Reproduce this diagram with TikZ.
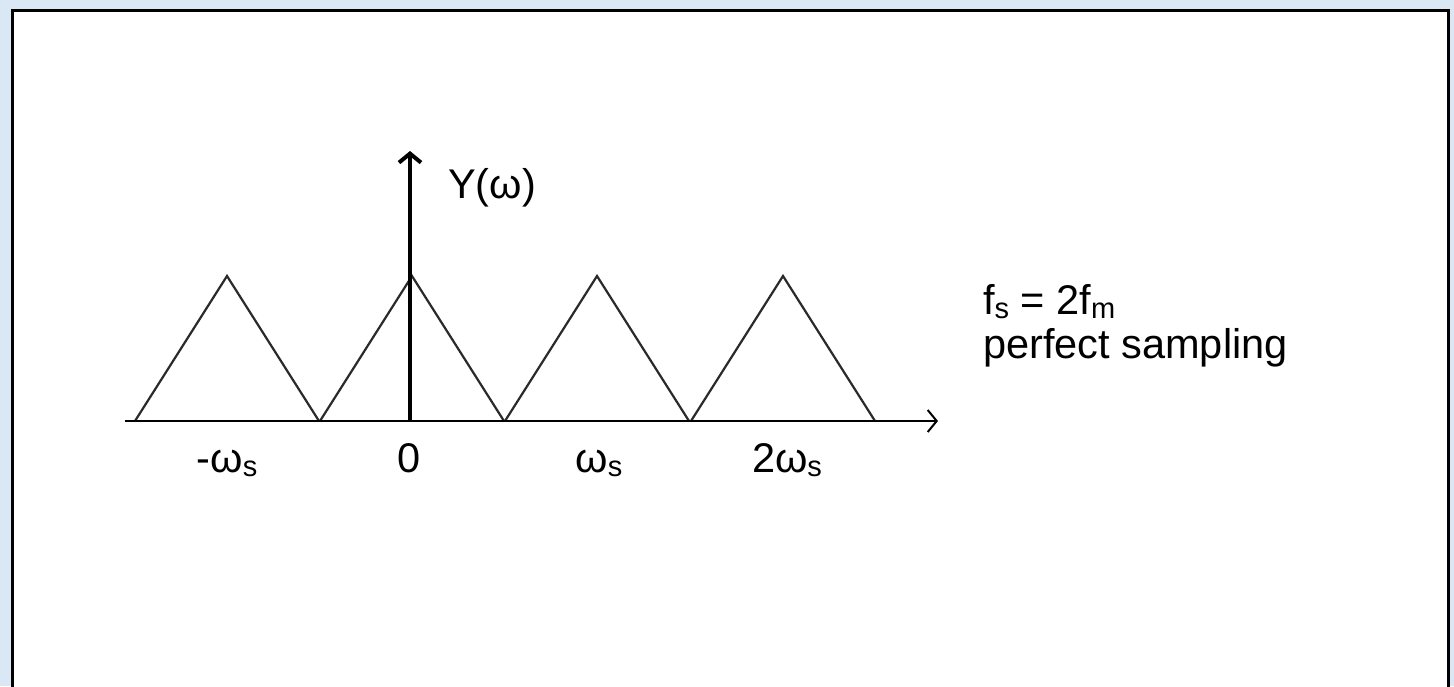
\documentclass[tikz,border=0pt]{standalone}
\usepackage{fontspec}
\setmainfont{Liberation Sans}
\usetikzlibrary{arrows.meta,positioning}
\definecolor{bgPaper}{HTML}{DAE7F4}
\definecolor{lineGrey}{HTML}{2A2A2A}
\newcommand{\lowidx}[1]{\raisebox{-0.12em}{\fontsize{29}{30}\selectfont #1}}

\begin{document}
\begin{tikzpicture}[
    x=1pt, y=-1pt,
    lbl/.style={font=\fontsize{41.5}{48}\selectfont, inner sep=0pt, anchor=base},
    axis/.style={-{Straight Barb[length=9pt, width=22pt]}, line width=2pt},
    spec/.style={lineGrey, line width=2.2pt, line join=miter},
]
    % page and white card
    \useasboundingbox (0,0) rectangle (1454,686);
    \clip (0,0) rectangle (1454,686);
    \fill[bgPaper] (0,0) rectangle (1454,686);
    \draw[fill=white, line width=3pt] (12,10) rectangle (1448,700);

    % spectrum copies
    \foreach \c in {227,412,597,783}
        \draw[spec] (\c-92,421) -- (\c,276) -- (\c+92,421);

    % axes
    \coordinate (xl) at (125,421);
    \coordinate (xr) at (938,421);
    \coordinate (org) at (410,421);
    \coordinate (yt) at (410,151);
    \draw[axis] (xl) -- (xr);
    \draw[axis, line width=4pt] (org) -- (yt);

    % labels
    \node[lbl, anchor=base west] (ylab) at (448,198) {Y(ω)};
    \node[lbl] (wm) at (227,472) {-ω\lowidx{s}};
    \node[lbl] (w0) at (409,472) {0};
    \node[lbl] (w1) at (599,472) {ω\lowidx{s}};
    \node[lbl] (w2) at (787,472) {2ω\lowidx{s}};
    \node[lbl, anchor=base west] (rate) at (983,314) {f\lowidx{s} = 2f\lowidx{m}};
    \node[lbl, anchor=base west] (note) at (983,358) {perfect sampling};
\end{tikzpicture}
\end{document}
